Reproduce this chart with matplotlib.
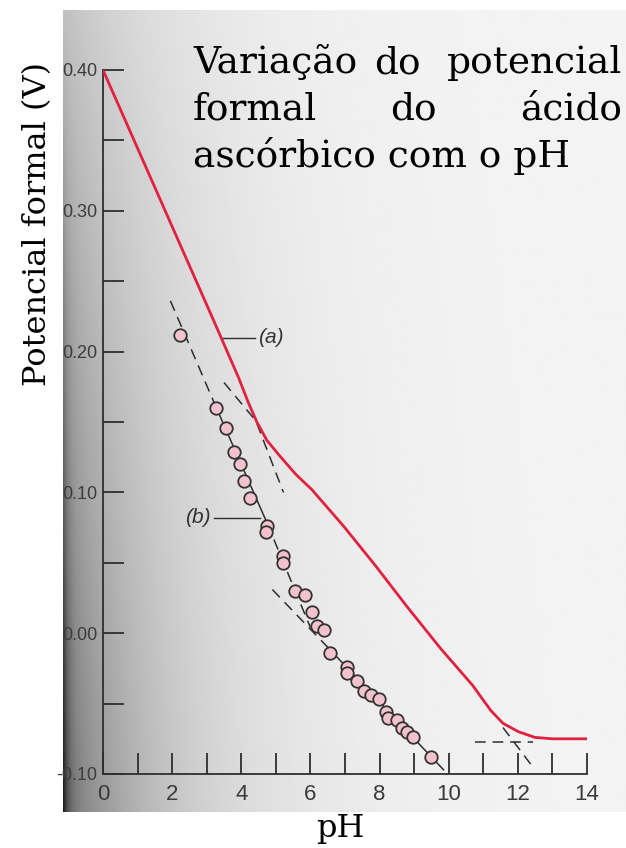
import numpy as np
import matplotlib
matplotlib.use("Agg")
import matplotlib.pyplot as plt

# curva (a): potencial formal do acido ascorbico (V) em funcao do pH
ph_a = [0.0, 3.22, 3.93, 4.20, 4.45, 4.74, 5.11, 5.57, 6.04, 6.96, 7.88,
        8.79, 9.77, 10.69, 11.22, 11.57, 12.02, 12.49, 13.0, 14.0]
e_a = [0.400, 0.221, 0.181, 0.164, 0.150, 0.137, 0.126, 0.113, 0.102, 0.076,
       0.048, 0.019, -0.011, -0.037, -0.055, -0.064, -0.070, -0.074, -0.075,
       -0.075]

# curva (b): pontos experimentais
ph_b = [2.23, 3.28, 3.55, 3.80, 3.96, 4.09, 4.25, 4.73, 4.72, 5.21, 5.22,
        5.56, 5.83, 6.04, 6.20, 6.39, 6.56, 7.05, 7.06, 7.36, 7.55, 7.74,
        7.97, 8.19, 8.24, 8.51, 8.65, 8.80, 8.98, 9.49]
e_b = [0.212, 0.160, 0.146, 0.129, 0.120, 0.108, 0.096, 0.076, 0.072, 0.055,
       0.050, 0.030, 0.027, 0.015, 0.005, 0.002, -0.014, -0.024, -0.028,
       -0.034, -0.041, -0.044, -0.047, -0.056, -0.060, -0.062, -0.067,
       -0.070, -0.074, -0.088]

# retas tracejadas (assintotas): pares de pontos (pH, E)
dash_a = [((3.50, 0.178), (4.45, 0.150)),
          ((4.45, 0.149), (5.22, 0.100)),
          ((10.75, -0.0775), (12.45, -0.0775)),
          ((11.57, -0.067), (12.37, -0.093))]
dash_b = [((1.95, 0.236), (3.28, 0.160)),
          ((4.75, 0.078), (6.00, 0.004)),
          ((4.90, 0.031), (6.50, -0.010))]
# trechos continuos da reta (b)
solid_b = [((3.28, 0.160), (4.75, 0.078)),
           ((6.50, -0.010), (9.85, -0.097))]

x_ticks = list(range(0, 15, 2))
y_ticks = [-0.10, 0.00, 0.10, 0.20, 0.30, 0.40]
y_labels = ["-0.10", "0.00", "0.10", "0.20", "0.30", "0.40"]

W, H = 626, 848
fig = plt.figure(figsize=(W / 100, H / 100), dpi=100)

# fundo da pagina digitalizada (sombra perto da lombada)
bg = fig.add_axes([63 / W, 1 - 812 / H, 1 - 63 / W, (812 - 10) / H])
xx = np.linspace(0, 563, 400)
yy = np.linspace(0, 1, 200)
X, Y = np.meshgrid(xx, yy)
shade = 0.955 - (0.20 + 0.30 * Y) * np.exp(-X / 110) - 0.35 * Y * np.exp(-X / 5)
bg.imshow(shade, cmap="gray", vmin=0, vmax=1, aspect="auto",
          extent=(0, 1, 0, 1), origin="upper", interpolation="bilinear")
bg.axis("off")

ax = fig.add_axes([103 / W, 1 - 774 / H, (587 - 103) / W, (774 - 70) / H])
ax.patch.set_alpha(0)

ink = "#2e2e2e"
for (x0, y0), (x1, y1) in dash_a + dash_b:
    ax.plot([x0, x1], [y0, y1], color=ink, lw=1.1, dashes=(7, 4.5))
for (x0, y0), (x1, y1) in solid_b:
    ax.plot([x0, x1], [y0, y1], color=ink, lw=1.1)

ax.plot(ph_a, e_a, color="#e0213f", lw=2.0, zorder=4)
ax.plot(ph_b, e_b, ls="none", marker="o", ms=9, mfc="#f2c3cf",
        mec="#333333", mew=1.3, zorder=5)

# rotulos (a) e (b)
sans = ["Liberation Sans", "DejaVu Sans"]
ax.plot([3.45, 4.40], [0.210, 0.210], color=ink, lw=1.0)
ax.text(4.47, 0.210, "(a)", fontsize=15, style="italic", color="#333333",
        family=sans, va="center", ha="left")
ax.plot([3.20, 4.55], [0.082, 0.082], color=ink, lw=1.0)
ax.text(3.12, 0.082, "(b)", fontsize=15, style="italic", color="#333333",
        family=sans, va="center", ha="right")

ax.set_xlim(0, 14)
ax.set_ylim(-0.10, 0.40)
ax.set_xticks(x_ticks)
ax.set_xticks(range(0, 15), minor=True)
ax.set_yticks(y_ticks)
ax.set_yticklabels(y_labels)
ax.set_yticks(np.arange(-0.10, 0.41, 0.05), minor=True)
ax.tick_params(which="both", direction="in", length=15, width=1.3, color=ink)
ax.tick_params(axis="x", pad=7, labelcolor="#3a3a3a")
ax.tick_params(axis="y", pad=4, labelcolor="#3c3c3c")
for lab in ax.get_yticklabels():
    lab.set_family(sans)
    lab.set_fontsize(13)
for lab in ax.get_xticklabels():
    lab.set_family(sans)
    lab.set_fontsize(16)
for side in ("top", "right"):
    ax.spines[side].set_visible(False)
for side in ("left", "bottom"):
    ax.spines[side].set_color(ink)
    ax.spines[side].set_linewidth(1.3)

serif = ["DejaVu Serif"]
tsize = 27
fig.text(193 / W, 1 - 73 / H, "Variação", family=serif, fontsize=tsize, va="baseline", ha="left")
fig.text(397 / W, 1 - 73 / H, "do", family=serif, fontsize=tsize, va="baseline", ha="center")
fig.text(622 / W, 1 - 73 / H, "potencial", family=serif, fontsize=tsize, va="baseline", ha="right")
fig.text(193 / W, 1 - 120 / H, "formal", family=serif, fontsize=tsize, va="baseline", ha="left")
fig.text(413 / W, 1 - 120 / H, "do", family=serif, fontsize=tsize, va="baseline", ha="center")
fig.text(622 / W, 1 - 120 / H, "ácido", family=serif, fontsize=tsize, va="baseline", ha="right")
fig.text(193 / W, 1 - 167 / H, "ascórbico com o pH", family=serif, fontsize=tsize, va="baseline", ha="left")

fig.text(38 / W, 1 - 224 / H, "Potencial formal (V)", family=serif, fontsize=23,
         rotation=90, va="center", ha="center")
fig.text(340 / W, 1 - 828 / H, "pH", family=serif, fontsize=23,
         va="center", ha="center")

fig.savefig("out.png", dpi=100, facecolor="white")
